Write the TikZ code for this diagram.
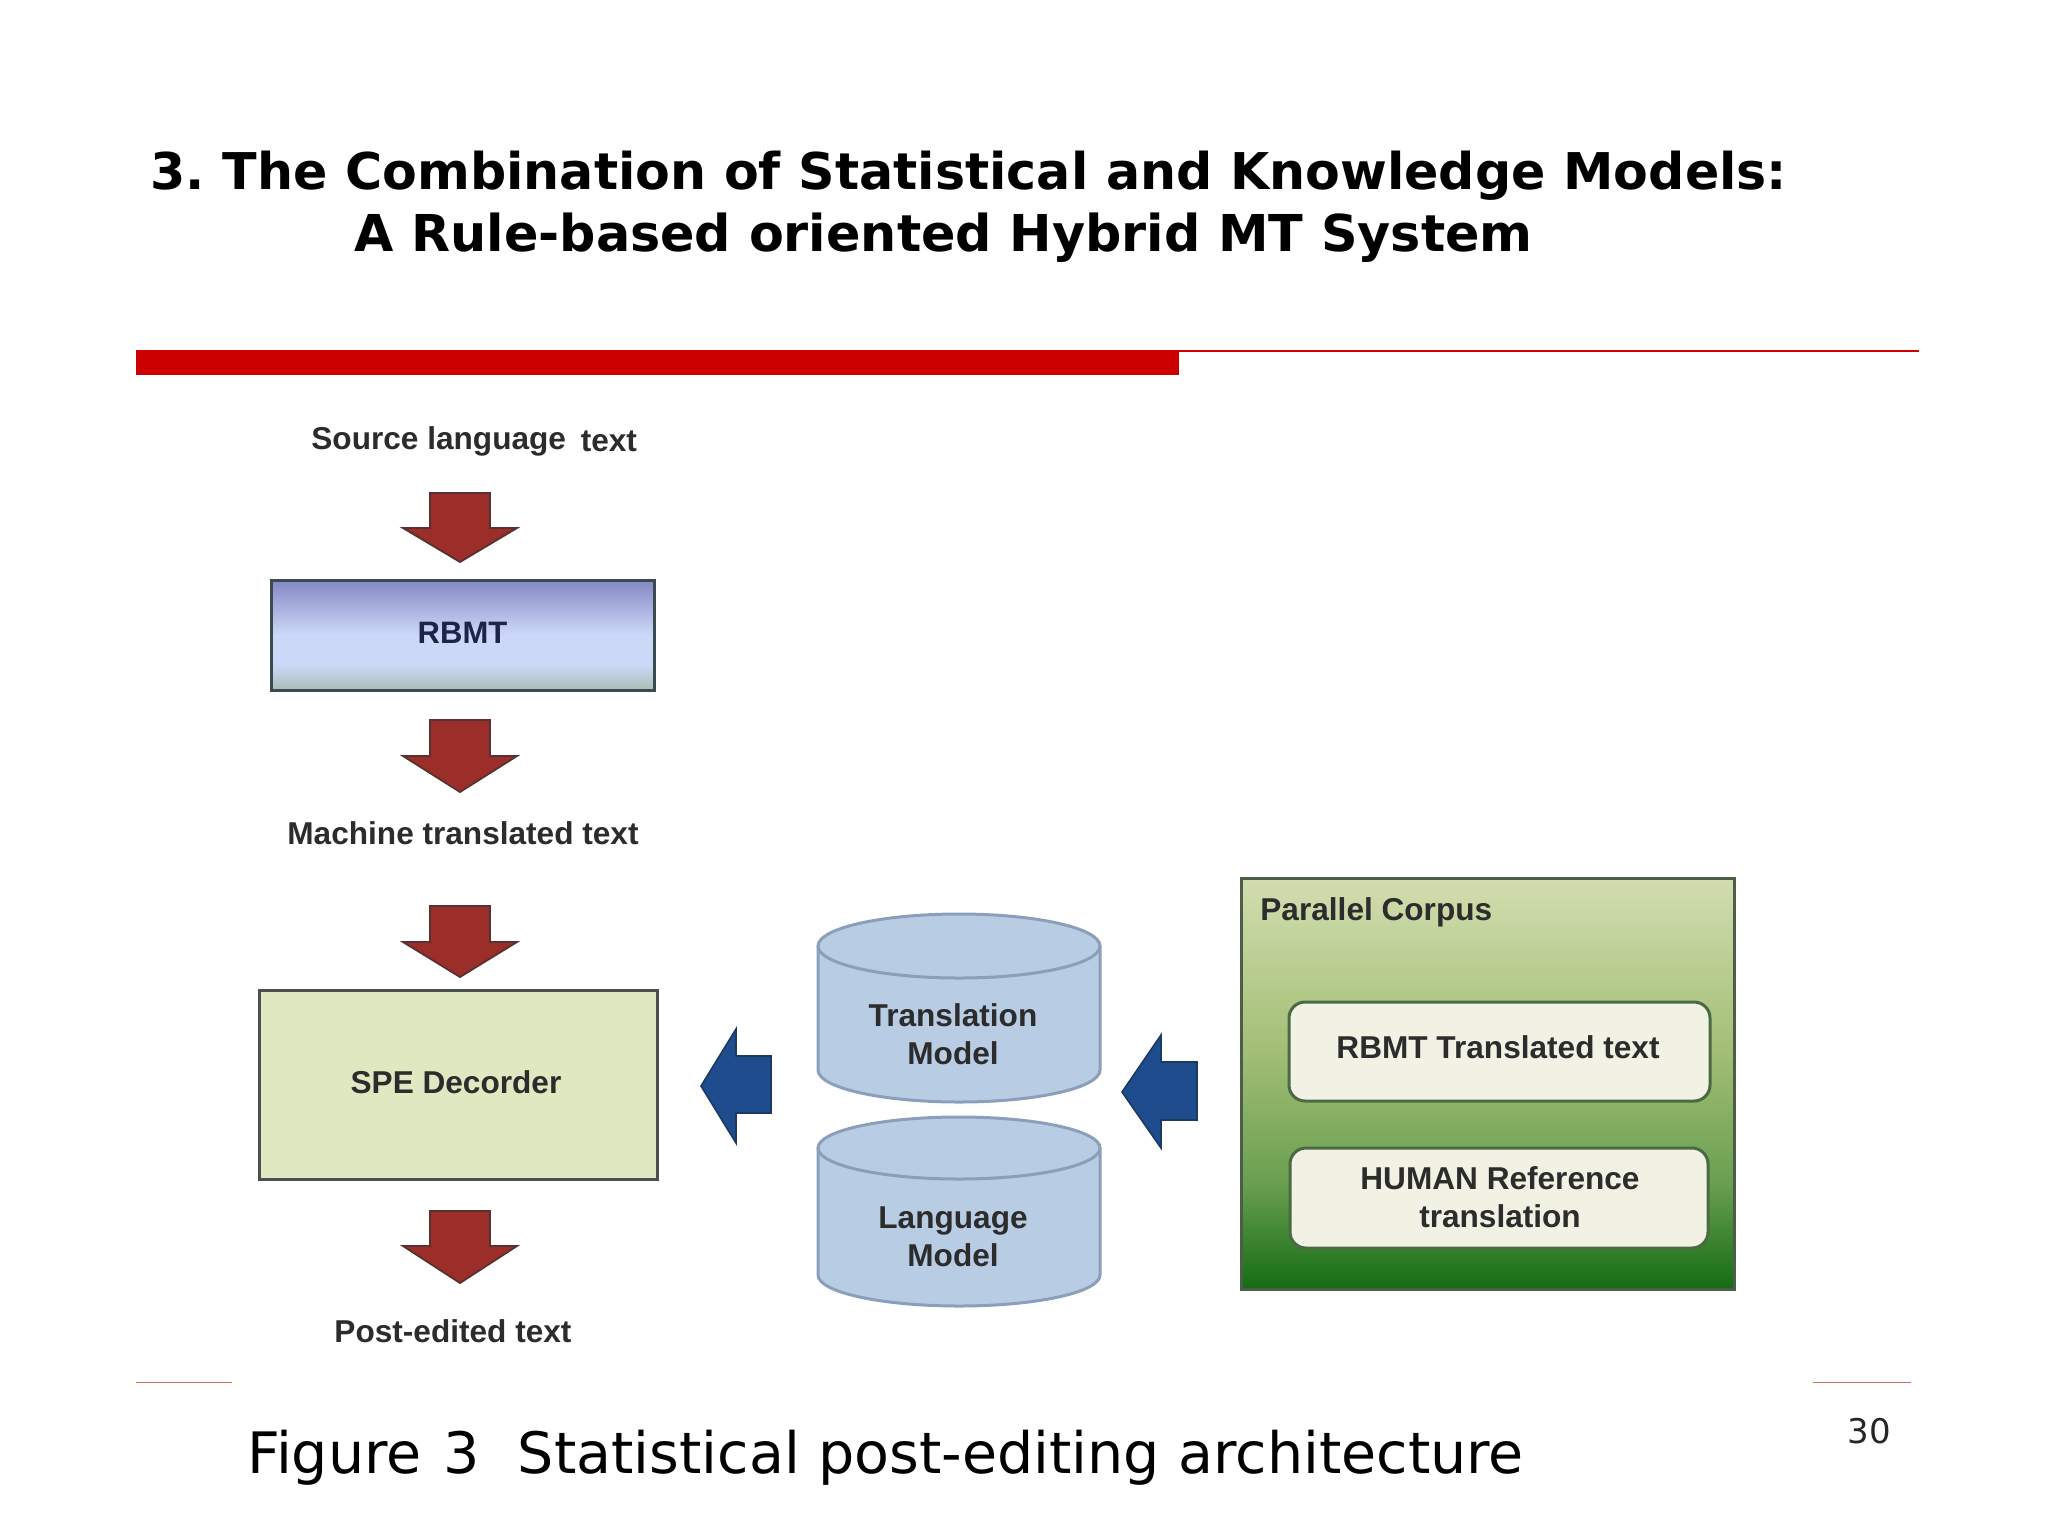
\documentclass[tikz,border=0pt]{standalone}
\usepackage{fontspec}
\setmainfont{Liberation Sans}
\newfontfamily\verd{DejaVu Sans}
\definecolor{rbmta}{HTML}{8488C4}
\definecolor{rbmtc}{HTML}{CCD8F8}
\definecolor{rbmtg}{HTML}{CCD8F8}
\definecolor{rbmtb}{HTML}{A9BDB3}
\definecolor{rbmtt}{HTML}{1C2448}
\definecolor{rbmtedge}{HTML}{3C4A50}
\definecolor{speedge}{HTML}{4A5050}
\definecolor{spefill}{HTML}{E0E8C2}
\definecolor{corpedge}{HTML}{4C5E48}
\definecolor{inneredge}{HTML}{4A6A44}
\definecolor{innerfill}{HTML}{F1F2E4}
\definecolor{corpa}{HTML}{D2DDB0}
\definecolor{corpb}{HTML}{A5C078}
\definecolor{corpc}{HTML}{6A9F50}
\definecolor{corpd}{HTML}{146C14}
\definecolor{barred}{HTML}{CC0000}
\definecolor{footred}{HTML}{C8705A}
\definecolor{txt}{HTML}{2C2C2C}
\definecolor{arrowred}{HTML}{9C2E2A}
\definecolor{arrowedge}{HTML}{5A3030}
\definecolor{arrowblue}{HTML}{1E4C8C}
\definecolor{arrowblueedge}{HTML}{1A3A66}
\definecolor{cylfill}{HTML}{B8CCE4}
\definecolor{cyledge}{HTML}{8C9FBA}
\pgfdeclareverticalshading{rbmtshade}{100bp}{
  color(0bp)=(rbmtb); color(25bp)=(rbmtb); color(36.5bp)=(rbmtg); color(38bp)=(rbmtc);
  color(50bp)=(rbmtc); color(75bp)=(rbmta); color(100bp)=(rbmta)}
\pgfdeclareverticalshading{corpusshade}{100bp}{
  color(0bp)=(corpd); color(25bp)=(corpd); color(38bp)=(corpc); color(55bp)=(corpb); color(75bp)=(corpa); color(100bp)=(corpa)}
\tikzset{
  titletext/.style={font=\verd\bfseries\fontsize{25.4}{30}\selectfont,anchor=base west,inner sep=0pt},
  lbl/.style={font=\bfseries\fontsize{15.8}{19}\selectfont,text=txt,align=center,inner sep=0pt},
  boxedge/.style={draw=#1,line width=1.5pt},
  downarrow/.style={fill=arrowred,draw=arrowedge,line width=0.9pt,line join=miter},
  leftarrow/.style={fill=arrowblue,draw=arrowblueedge,line width=0.8pt,line join=miter},
  cyl/.style={fill=cylfill,draw=cyledge,line width=1.5pt},
}
\begin{document}
\begin{tikzpicture}[x=0.5pt,y=-0.5pt]
\useasboundingbox[fill=white] (0,0) rectangle (2048,1536);
% header
\node[titletext,font=\verd\bfseries\fontsize{25.33}{30}\selectfont] (t1) at (150,189.5) {3.\hspace{-2.8pt} The Combination of Statistical and Knowledge Models:};
\node[titletext] (t2) at (354,251) {A Rule-based oriented Hybrid MT System};
\fill[barred] (136,350) rectangle (1179,375);
\fill[barred] (1179,350) rectangle (1919,352);
\fill[footred] (136,1381.5) rectangle (232,1383);
\fill[footred] (1813,1381.5) rectangle (1911,1383);
% left column
\node[lbl,anchor=base west] (src) at (311,449) {Source language\hspace{3pt} \raisebox{-1pt}{text}};
\draw[downarrow] (430,493) -- (490,493) -- (490,528) -- (517,528) -- (460,562) -- (403,528) -- (430,528) -- cycle;
\node[boxedge=rbmtedge,shading=rbmtshade,minimum width=191.5pt,minimum height=55.2pt,inner sep=0pt,font=\bfseries\fontsize{15.5}{18}\selectfont] (rbmt) at (462.5,635.2) {\raisebox{2pt}{\textcolor{rbmtt}{RBMT}}};
\draw[downarrow] (430,720) -- (490,720) -- (490,756) -- (517,756) -- (460,792) -- (403,756) -- (430,756) -- cycle;
\node[lbl] (mt) at (463,833) {Machine translated text};
\draw[downarrow] (430,906) -- (490,906) -- (490,942) -- (517,942) -- (460,977) -- (403,942) -- (430,942) -- cycle;
\node[boxedge=speedge,fill=spefill,minimum width=199pt,minimum height=94.5pt,inner sep=0pt] (spe) at (458.5,1084.5) {};
\node[lbl] (spelabel) at (456,1082) {SPE Decorder};
\draw[downarrow] (430,1211) -- (490,1211) -- (490,1246) -- (517,1246) -- (460,1283) -- (403,1246) -- (430,1246) -- cycle;
\node[lbl] (post) at (453,1331) {Post-edited text};
% blue arrows
\draw[leftarrow] (771,1056) -- (736,1056) -- (736,1029) -- (701,1086) -- (736,1143) -- (736,1113) -- (771,1113) -- cycle;
\draw[leftarrow] (1197,1062) -- (1161,1062) -- (1161,1035) -- (1122,1092) -- (1161,1148) -- (1161,1120) -- (1197,1120) -- cycle;
% cylinders
\draw[cyl] (818,946) -- (818,1070) arc[start angle=180,end angle=0,x radius=141,y radius=32] -- (1100,946);
\draw[cyl] (959,946) ellipse[x radius=141,y radius=32];
\node[lbl] (tm) at (953,1034) {Translation\\Model};
\draw[cyl] (818,1148) -- (818,1275) arc[start angle=180,end angle=0,x radius=141,y radius=31] -- (1100,1148);
\draw[cyl] (959,1148) ellipse[x radius=141,y radius=31];
\node[lbl] (lm) at (953,1237) {Language\\Model};
% corpus
\node[boxedge=corpedge,shading=corpusshade,minimum width=246.5pt,minimum height=205.5pt,inner sep=0pt] (corpus) at (1487.5,1083.5) {};
\node[lbl,anchor=base west] (pc) at (1260,920) {Parallel Corpus};
\node[boxedge=inneredge,fill=innerfill,rounded corners=8pt,minimum width=210.5pt,minimum height=49.5pt,inner sep=0pt] (rt) at (1499.5,1051.5) {};
\node[lbl] (rtl) at (1498,1047) {RBMT Translated text};
\node[boxedge=inneredge,fill=innerfill,rounded corners=8pt,minimum width=209pt,minimum height=50pt,inner sep=0pt] (hr) at (1499,1198) {};
\node[lbl] (hrl) at (1500,1197) {HUMAN Reference\\translation};
% caption
\node[font=\verd\fontsize{28.55}{34}\selectfont,anchor=base west,inner sep=0pt] (cap) at (247,1473) {Figure\hspace{1.8pt} 3\hspace{10pt} Statistical post-editing architecture};
\node[font=\verd\fontsize{17}{22}\selectfont,inner sep=0pt,text=black!85] (num) at (1869,1431) {30};
\end{tikzpicture}
\end{document}
